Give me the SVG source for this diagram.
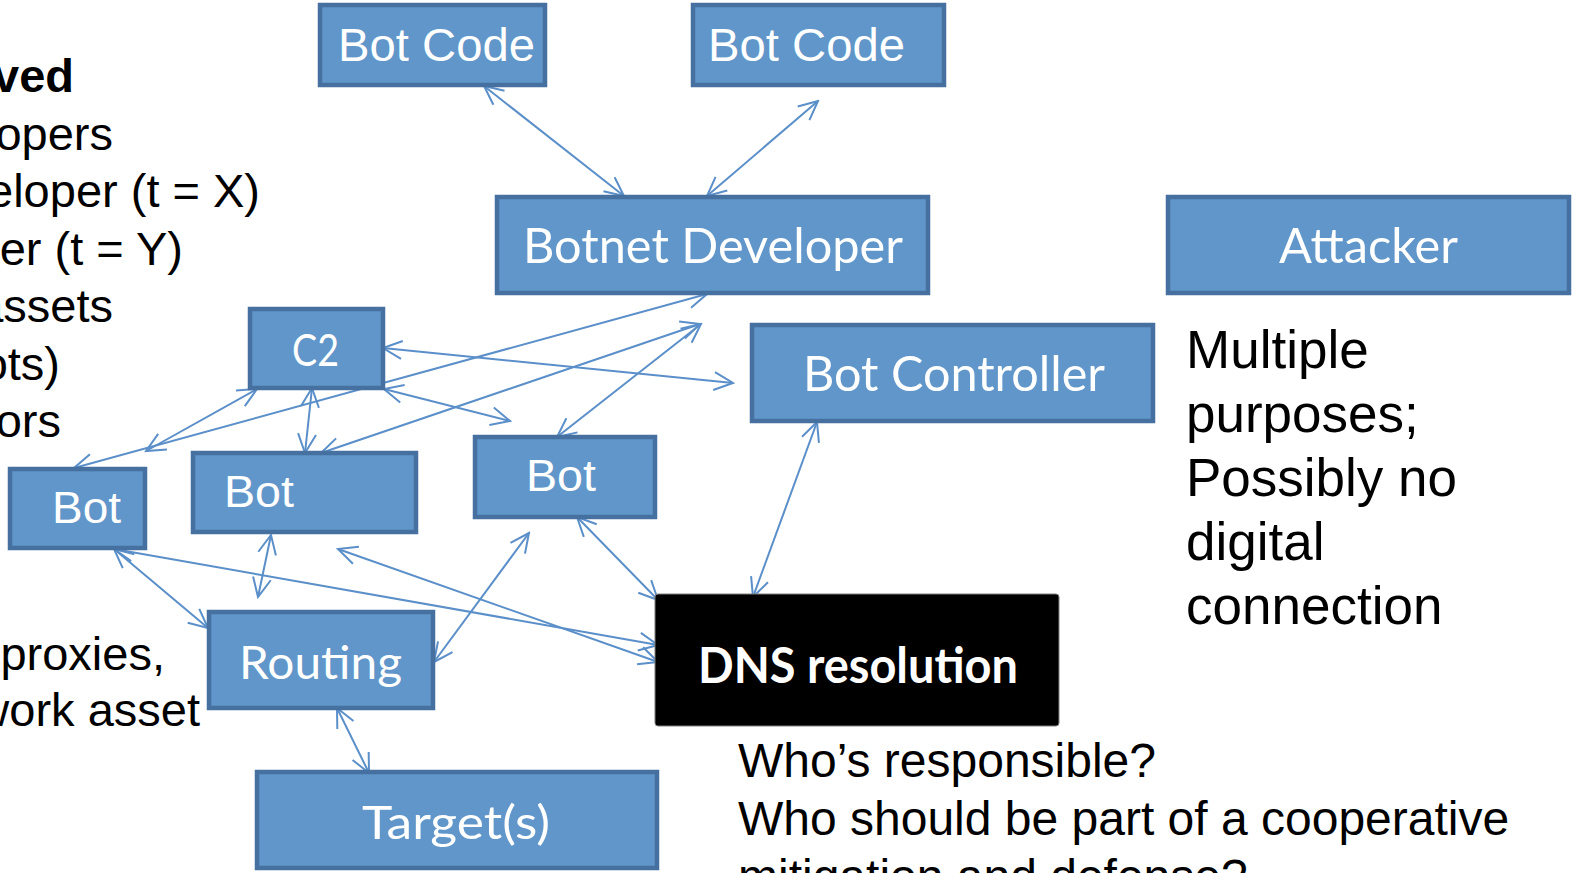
<svg xmlns="http://www.w3.org/2000/svg" width="1573" height="873" viewBox="0 0 1573 873">
  <defs>
    <style>
      .box { fill: #6096C9; stroke: #46709F; stroke-width: 4.5; }
      .dns { fill: #000; stroke: #808080; stroke-width: 1; }
      .lbl { fill: #fff; font-family: Lato, "Open Sans", sans-serif; }
      .lbla { fill: #fff; font-family: "Liberation Sans", Arial, sans-serif; }
      .body { fill: #000; font-family: "Liberation Sans", Arial, sans-serif; }
      .conn line { stroke: #5B8FC9; stroke-width: 2; fill: none; marker-start: url(#ah); marker-end: url(#ah); }
    </style>
    <!-- open V arrowhead used at both ends of every connector -->
    <marker id="ah" viewBox="-22 -12 24 24" refX="0" refY="0" markerWidth="24" markerHeight="24" markerUnits="userSpaceOnUse" orient="auto-start-reverse">
      <path d="M-19,-9 L0,0 L-19,9" fill="none" stroke="#5B8FC9" stroke-width="2"/>
    </marker>
  </defs>

  <rect width="1573" height="873" fill="#fff"/>

  <!-- side notes -->
  <g id="notes-left" class="body" font-size="47" text-anchor="end">
    <text x="74" y="92" font-weight="bold">ved</text>
    <text x="113" y="149.5">opers</text>
    <text x="260" y="207">eloper (t = X)</text>
    <text x="183" y="264.5">er (t = Y)</text>
    <text x="113" y="322">assets</text>
    <text x="60" y="379.5">(bots)</text>
    <text x="61" y="437">ors</text>
    <text x="165" y="670">proxies,</text>
    <text x="200" y="726">work asset</text>
  </g>

  <g id="notes-right" class="body" font-size="53">
    <text x="1186" y="368">Multiple</text>
    <text x="1186" y="432">purposes;</text>
    <text x="1186" y="496">Possibly no</text>
    <text x="1186" y="560">digital</text>
    <text x="1186" y="624">connection</text>
  </g>

  <g id="notes-bottom" class="body" font-size="48">
    <text x="738" y="777">Who’s responsible?</text>
    <text x="738" y="835">Who should be part of a cooperative</text>
    <text x="738" y="893">mitigation and defense?</text>
  </g>

  <!-- connectors -->
  <g id="connectors" class="conn">
    <line x1="484" y1="86" x2="624" y2="196"/>
    <line x1="818" y1="101" x2="707" y2="196"/>
    <line x1="707" y1="294" x2="74" y2="468"/>
    <line x1="257" y1="389" x2="146" y2="451"/>
    <line x1="700" y1="324" x2="321" y2="453"/>
    <line x1="701" y1="324" x2="557" y2="437"/>
    <line x1="383" y1="348" x2="733" y2="383"/>
    <line x1="384" y1="389" x2="510" y2="421"/>
    <line x1="312" y1="388" x2="305" y2="453"/>
    <line x1="114" y1="549" x2="658" y2="645"/>
    <line x1="338" y1="549" x2="658" y2="662"/>
    <line x1="114" y1="549" x2="208" y2="628"/>
    <line x1="271" y1="535" x2="258" y2="597"/>
    <line x1="529" y1="533" x2="434" y2="662"/>
    <line x1="577" y1="517" x2="658" y2="600"/>
    <line x1="817" y1="422" x2="753" y2="597"/>
    <line x1="337" y1="708" x2="369" y2="773"/>
  </g>

  <!-- nodes -->
  <g id="bot-code-1">
    <rect class="box" x="320" y="5" width="225" height="80"/>
    <text class="lbla" x="338" y="61" font-size="47" textLength="197" lengthAdjust="spacingAndGlyphs">Bot Code</text>
  </g>
  <g id="bot-code-2">
    <rect class="box" x="693" y="5" width="251" height="80"/>
    <text class="lbla" x="708" y="61" font-size="47" textLength="197" lengthAdjust="spacingAndGlyphs">Bot Code</text>
  </g>
  <g id="botnet-developer">
    <rect class="box" x="497" y="197" width="431" height="96"/>
    <text class="lbl" x="523" y="263" font-size="48" textLength="380" lengthAdjust="spacingAndGlyphs">Botnet Developer</text>
  </g>
  <g id="attacker">
    <rect class="box" x="1168" y="197" width="401" height="96"/>
    <text class="lbl" x="1279" y="263" font-size="48" textLength="179" lengthAdjust="spacingAndGlyphs">Attacker</text>
  </g>
  <g id="c2">
    <rect class="box" x="250" y="309" width="133" height="79"/>
    <text class="lbl" x="292" y="366" font-size="44" textLength="47" lengthAdjust="spacingAndGlyphs">C2</text>
  </g>
  <g id="bot-controller">
    <rect class="box" x="752" y="325" width="401" height="96"/>
    <text class="lbl" x="803" y="391" font-size="48" textLength="302" lengthAdjust="spacingAndGlyphs">Bot Controller</text>
  </g>
  <g id="bot-1">
    <rect class="box" x="10" y="469" width="135" height="79"/>
    <text class="lbla" x="52" y="523" font-size="45" textLength="69" lengthAdjust="spacingAndGlyphs">Bot</text>
  </g>
  <g id="bot-2">
    <rect class="box" x="193" y="453" width="223" height="79"/>
    <text class="lbla" x="224" y="507" font-size="45" textLength="70" lengthAdjust="spacingAndGlyphs">Bot</text>
  </g>
  <g id="bot-3">
    <rect class="box" x="475" y="437" width="180" height="80"/>
    <text class="lbla" x="526" y="491" font-size="45" textLength="70" lengthAdjust="spacingAndGlyphs">Bot</text>
  </g>
  <g id="routing">
    <rect class="box" x="209" y="612" width="224" height="96"/>
    <text class="lbl" x="239" y="679" font-size="46" textLength="163" lengthAdjust="spacingAndGlyphs">Routing</text>
  </g>
  <g id="targets">
    <rect class="box" x="257" y="772" width="400" height="96"/>
    <text class="lbl" x="362" y="839" font-size="46" textLength="188" lengthAdjust="spacingAndGlyphs">Target(s)</text>
  </g>
  <g id="dns-resolution">
    <rect class="dns" x="655" y="594" width="404" height="132" rx="3"/>
    <text class="lbl" x="698" y="683" font-size="49" font-weight="bold" textLength="320" lengthAdjust="spacingAndGlyphs">DNS resolution</text>
  </g>
</svg>
